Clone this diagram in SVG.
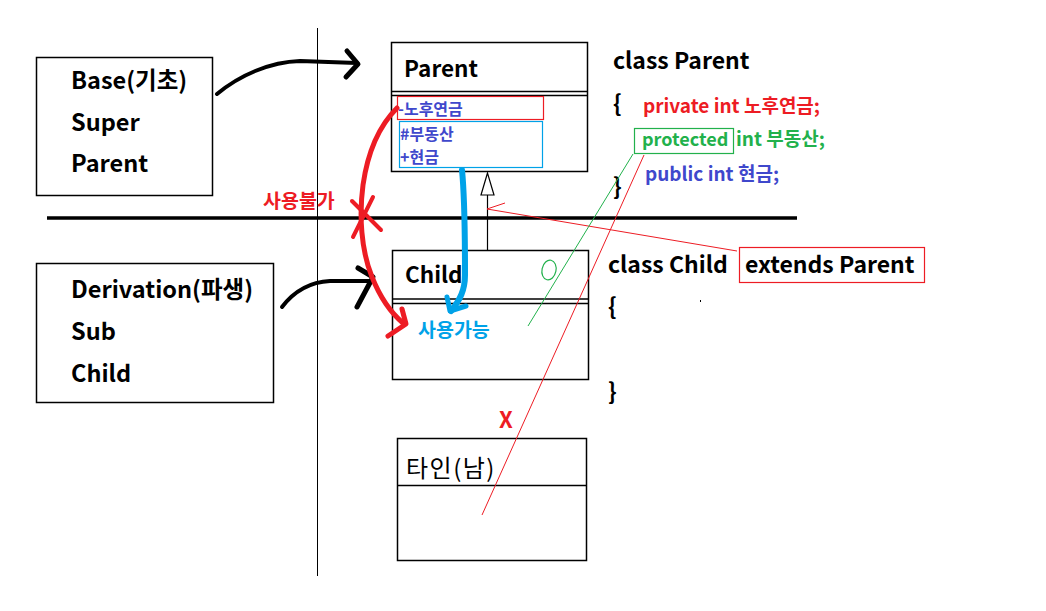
<svg xmlns="http://www.w3.org/2000/svg" width="1046" height="611" viewBox="0 0 1046 611">
<style>
.box{fill:none;stroke:#000;stroke-width:1.5}
.t{font-family:"Malgun Gothic","Noto Sans CJK KR","Noto Sans",sans-serif;font-weight:bold}
.left{font-size:23.5px;fill:#000}
.head{font-size:22.5px;fill:#000}
.big{font-size:23px;fill:#000}
.mem{font-size:16px;fill:#3f48cc}
.code{font-size:19px}
.red{fill:#ed1c24}
.green{fill:#22b14c}
.blue{fill:#3f48cc}
.cyan{fill:#00a2e8}
.brush{fill:none;stroke-linecap:round;stroke-linejoin:round}
</style>
<rect width="1046" height="611" fill="#fff"/>

<g id="base-box">
<rect class="box" x="36.5" y="57.5" width="176" height="138"/>
<text class="t left" x="71" y="89">Base(기초)</text>
<text class="t left" x="71" y="131">Super</text>
<text class="t left" x="71" y="172">Parent</text>
</g>

<g id="derivation-box">
<rect class="box" x="36.5" y="263.5" width="237" height="139"/>
<text class="t left" x="71" y="298">Derivation(파생)</text>
<text class="t left" x="71" y="340">Sub</text>
<text class="t left" x="71" y="382">Child</text>
</g>

<g id="dividers">
<line x1="317.5" y1="28" x2="317.5" y2="576" stroke="#000" stroke-width="1"/>
<line x1="47" y1="218" x2="797" y2="218" stroke="#000" stroke-width="3.5"/>
</g>

<g id="parent-class">
<rect class="box" x="391.5" y="42.5" width="196" height="129"/>
<line x1="391.5" y1="91.5" x2="587.5" y2="91.5" stroke="#000" stroke-width="1.5"/>
<line x1="391.5" y1="95.5" x2="587.5" y2="95.5" stroke="#000" stroke-width="1.5"/>
<text class="t head" x="404" y="77">Parent</text>
<rect x="397.5" y="96.5" width="146" height="23" fill="none" stroke="#ed1c24" stroke-width="1.2"/>
<rect x="399.5" y="121.5" width="143" height="46" fill="none" stroke="#00a2e8" stroke-width="1.2"/>
<text class="t mem" x="398" y="115">-노후연금</text>
<text class="t mem" x="400" y="140">#부동산</text>
<text class="t mem" x="400" y="163">+현금</text>
</g>

<g id="child-class">
<rect class="box" x="392.5" y="250.5" width="196" height="129"/>
<line x1="392.5" y1="299" x2="588.5" y2="299" stroke="#000" stroke-width="1.5"/>
<line x1="392.5" y1="303.5" x2="588.5" y2="303.5" stroke="#000" stroke-width="1.5"/>
<text class="t head" x="405" y="283">Child</text>
<ellipse cx="549" cy="270" rx="7" ry="10" transform="rotate(12 549 270)" fill="none" stroke="#22b14c" stroke-width="1.2"/>
<text class="t cyan" x="418" y="337" font-size="19.5">사용가능</text>
</g>

<g id="stranger-class">
<rect class="box" x="397.5" y="438.5" width="189" height="122"/>
<line x1="397.5" y1="485.5" x2="586.5" y2="485.5" stroke="#000" stroke-width="1.5"/>
<text x="406" y="477" font-family="'Noto Sans CJK KR',sans-serif" font-size="24" letter-spacing="1.5" fill="#000">타인(남)</text>
</g>

<g id="code">
<text class="t big" x="613" y="69">class Parent</text>
<text class="t big" x="613" y="112">{</text>
<text class="t code red" x="643" y="113">private int 노후연금;</text>
<rect x="634.5" y="128.5" width="99" height="25" fill="none" stroke="#22b14c" stroke-width="1.2"/>
<text class="t green" x="642" y="146" font-size="18">protected</text>
<text class="t code green" x="736" y="146">int 부동산;</text>
<text class="t code blue" x="645" y="181">public int 현금;</text>
<text class="t big" x="613" y="195">}</text>
<text class="t big" x="608" y="273">class Child</text>
<rect x="739.5" y="247.5" width="185" height="35" fill="none" stroke="#ed1c24" stroke-width="1.2"/>
<text class="t big" x="745" y="273">extends Parent</text>
<text class="t big" x="608" y="315">{</text>
<rect x="700" y="300" width="1" height="2" fill="#000"/>
<text class="t big" x="608" y="400">}</text>
</g>

<g id="labels">
<text class="t red" x="263" y="208" font-size="19.5">사용불가</text>
<text class="t red" x="499" y="428" font-size="22">X</text>
</g>

<g id="connectors">
<!-- inheritance -->
<line x1="487.5" y1="195" x2="487.5" y2="250" stroke="#000" stroke-width="1.2"/>
<polygon points="487.5,173 481,195 494,195" fill="#fff" stroke="#000" stroke-width="1.2"/>
<!-- red thin arrow from extends -->
<line x1="737" y1="251" x2="487" y2="209" stroke="#ed1c24" stroke-width="1"/>
<line x1="487" y1="209" x2="505" y2="203" stroke="#ed1c24" stroke-width="1"/>
<!-- red thin line crossing -->
<line x1="644" y1="155" x2="482" y2="515" stroke="#ed1c24" stroke-width="1"/>
<!-- green thin line -->
<line x1="633" y1="154" x2="528" y2="326" stroke="#22b14c" stroke-width="1"/>
<!-- black brush arrows -->
<path class="brush" d="M217,94 C240,75 270,62 300,61 L357,63" stroke="#000" stroke-width="4"/>
<path class="brush" d="M347,51 L358,64 L346,77" stroke="#000" stroke-width="5"/>
<path class="brush" d="M282,307 C295,290 310,282 330,281 L370,281" stroke="#000" stroke-width="4"/>
<path class="brush" d="M358,268 L373,277 L357,307" stroke="#000" stroke-width="5"/>
<!-- red thick curve -->
<path class="brush" d="M397,108 C380,125 368,150 363,185 C359,215 361,250 372,277 C380,297 390,312 403,323" stroke="#ed1c24" stroke-width="5"/>
<path class="brush" d="M402,309 L406,324 L388,336" stroke="#ed1c24" stroke-width="5"/>
<path class="brush" d="M352,201 L381,230" stroke="#ed1c24" stroke-width="4"/>
<path class="brush" d="M373,197 L353,237" stroke="#ed1c24" stroke-width="4"/>
<!-- blue thick curve -->
<path class="brush" d="M462,170 C465,200 465,240 465,275 C465,290 460,300 451,311" stroke="#00a2e8" stroke-width="6"/>
<path class="brush" d="M447,297 L450,311 L466,306" stroke="#00a2e8" stroke-width="5"/>
</g>
</svg>
